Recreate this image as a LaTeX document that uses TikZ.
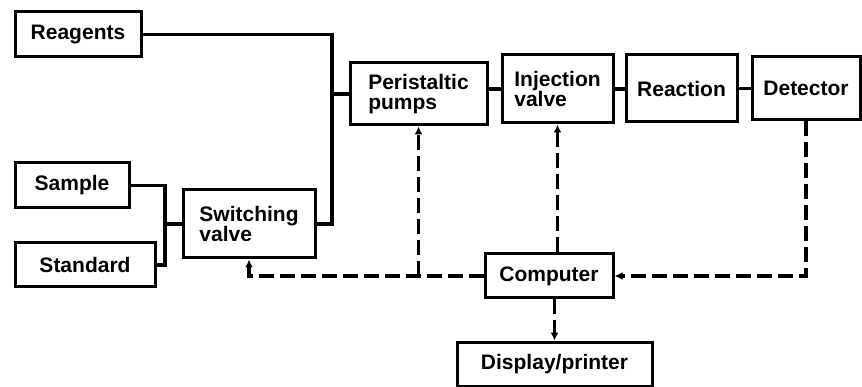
\documentclass[tikz,border=0pt]{standalone}
\usepackage{fontspec}
\setmainfont{Liberation Sans}
\usetikzlibrary{arrows.meta, positioning, calc}

\tikzset{
  unit/.style={draw, line width=3pt, align=left, inner sep=0pt,
    font=\bfseries\fontsize{21}{20}\selectfont},
  flow/.style={line width=3.2pt},
  signal/.style={line width=3.2pt, dash pattern=on 15pt off 6pt},
  sigarrow/.style={-{Latex[length=8pt,width=8pt]}}
}

\begin{document}
\begin{tikzpicture}[x=1pt, y=-1pt]
        \useasboundingbox (0,0) rectangle (862,387);
        % Inlets
        \node[unit, minimum width=126pt, minimum height=45pt] (reag) at (78,34.5) {Reagents};
        \node[unit, minimum width=114pt, minimum height=45pt] (samp) at (72,185.5) {Sample};
        \node[unit, minimum width=140pt, minimum height=44pt] (std) at (85,265) {Standard};
        \node[unit, minimum width=132pt, minimum height=68pt] (sw) at (249,224) {Switching\\valve};
        % Flow line
        \node[unit, minimum width=137pt, minimum height=62pt] (peri) at (418.5,94) {Peristaltic\\pumps};
        \node[unit, minimum width=111pt, minimum height=68pt] (inj) at (557.5,89) {Injection\\valve};
        \node[unit, minimum width=111pt, minimum height=67pt] (reac) at (681.5,88.5) {Reaction};
        \node[unit, minimum width=108pt, minimum height=63pt] (det) at (806,88.5) {Detector};
        % Control
        \node[unit, minimum width=128pt, minimum height=44pt] (comp) at (549,276) {Computer};
        \node[unit, minimum width=195pt, minimum height=44pt] (disp) at (554.5,364) {Display/printer};
        % Junctions
        \coordinate (sjoin) at (165,224);
        \coordinate (mjoin) at (332,224);
        % Liquid connections
        \draw[flow] (samp.east) -| (sjoin) |- (std.east);
        \draw[flow] (sjoin) -- (sw.west);
        \draw[flow] (reag.east) -| (mjoin) -- (sw.east);
        \draw[flow] (peri.west -| mjoin) -- (peri.west);
        \draw[flow] (inj.west -| peri.east) -- (inj.west);
        \draw[flow] (inj.east) -- (inj.east -| reac.west);
        \draw[flow] (reac.east) -- (reac.east -| det.west);
        % Signals
        \draw[signal, sigarrow] (comp.west) -| (sw.south);
        \draw[signal, sigarrow] (peri.south |- comp.west) -- (peri.south);
        \draw[signal, sigarrow] (inj.south |- comp.north) -- (inj.south);
        \draw[signal, sigarrow] (det.south) |- (comp.east);
        \draw[signal, sigarrow] (disp.north |- comp.south) -- (disp.north);
\end{tikzpicture}
\end{document}
